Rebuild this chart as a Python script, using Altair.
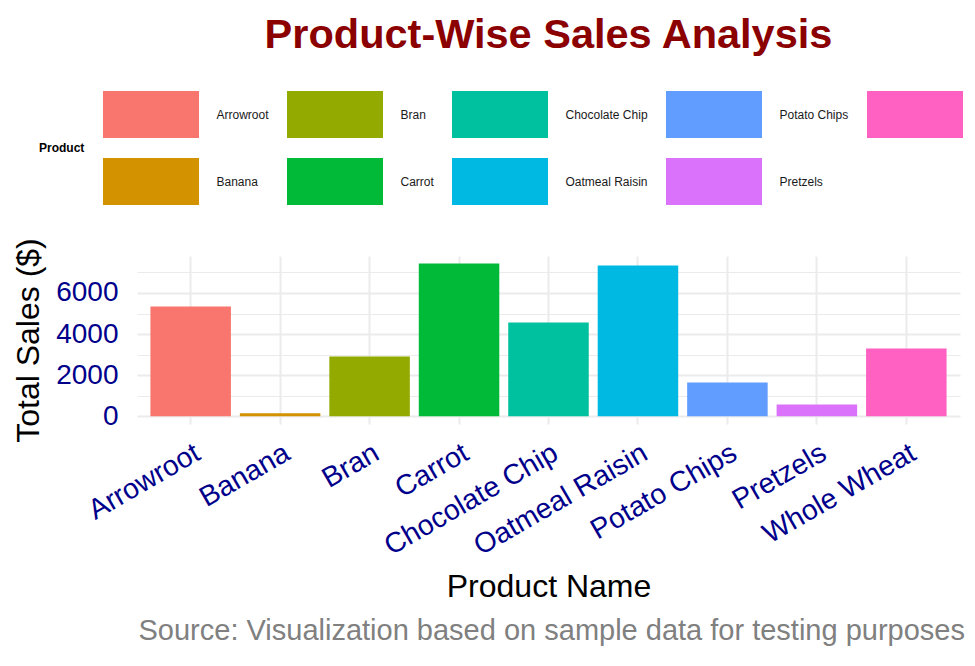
import altair as alt
import pandas as pd

# ---- data ----
products = ["Arrowroot", "Banana", "Bran", "Carrot", "Chocolate Chip",
            "Oatmeal Raisin", "Potato Chips", "Pretzels", "Whole Wheat"]
sales = [5340, 150, 2910, 7425, 4560, 7330, 1650, 580, 3300]
colors = ["#F8766D", "#D39200", "#93AA00", "#00BA38", "#00C19F",
          "#00B9E3", "#619CFF", "#DB72FB", "#FF61C3"]
legend_order = ["Arrowroot", "Bran", "Chocolate Chip", "Potato Chips", "Whole Wheat",
                "Banana", "Carrot", "Oatmeal Raisin", "Pretzels"]
y_grid_values = [0, 1000, 2000, 3000, 4000, 5000, 6000, 7000]
y_domain = [-371, 7795]

title_text = "Product-Wise Sales Analysis"
caption_text = "Source: Visualization based on sample data for testing purposes"

df = pd.DataFrame({"Product": products, "Sales": sales})
cap_df = pd.DataFrame({"t": [caption_text]})

FONT = "Liberation Sans"
W, H = 823, 168

bars = alt.Chart(df).mark_bar().encode(
    x=alt.X(
        "Product:N", sort=products, title="Product Name",
        scale=alt.Scale(paddingInner=0.1, paddingOuter=0.15),
        axis=alt.Axis(
            labelAngle=-30, labelAlign="right", labelBaseline="top",
            labelFontSize=28.5, labelColor="#00008B", labelPadding=14, labelFont=FONT,
            labelLimit=0,
            ticks=False, tickSize=0, domain=False,
            grid=True, gridColor="#EBEBEB", gridWidth=2, bandPosition=0.5,
            titleFontSize=32, titleColor="black", titleFontWeight="normal",
            titleFont=FONT, titlePadding=11,
        ),
    ),
    y=alt.Y(
        "Sales:Q", title="Total Sales ($)",
        scale=alt.Scale(domain=y_domain, nice=False, zero=False),
        axis=alt.Axis(
            values=y_grid_values, format="d",
            labelExpr="datum.value % 2000 == 0 ? datum.label : ''",
            labelFontSize=28, labelColor="#00008B", labelPadding=19, labelFont=FONT,
            ticks=False, tickSize=0, domain=False,
            grid=True, gridColor="#EBEBEB",
            gridWidth={"condition": {"test": "datum.value % 2000 == 0", "value": 2}, "value": 1},
            titleFontSize=32, titleColor="black", titleFontWeight="normal",
            titleFont=FONT, titlePadding=10,
        ),
    ),
    color=alt.Color(
        "Product:N",
        scale=alt.Scale(domain=products, range=colors),
        legend=alt.Legend(
            title="Product", orient="none", legendX=-98, legendY=-165,
            columns=5, values=legend_order, direction="horizontal",
            symbolType="M-2.043,-1H2.043V1H-2.043Z", symbolSize=2209,
            symbolStrokeWidth=0, symbolOpacity=1, symbolOffset=24.5,
            labelOffset=42, labelFontSize=12, labelFont=FONT, labelColor="#1A1A1A",
            titleOrient="left", titleAnchor="middle", titleFontSize=12,
            titleFontWeight="bold", titleFont=FONT, titlePadding=18, titleColor="black",
            rowPadding=20, columnPadding=17, gridAlign="each",
        ),
    ),
)

caption = alt.Chart(cap_df).mark_text(
    align="right", baseline="alphabetic", fontSize=29, color="#808080", font=FONT
).encode(x=alt.value(828), y=alt.value(384), text="t:N")

chart = alt.layer(bars, caption).properties(
    width=W, height=H,
    title=alt.TitleParams(title_text, fontSize=41.5, fontWeight="bold", color="#8B0000",
                          anchor="middle", font=FONT, dy=-31),
    autosize=alt.AutoSizeParams(type="none"),
    padding={"left": 137, "top": 256, "right": 15, "bottom": 242},
).configure(font=FONT, background="white").configure_view(stroke=None)

chart.save("out.html", embed_options={"renderer": "svg", "actions": False})
